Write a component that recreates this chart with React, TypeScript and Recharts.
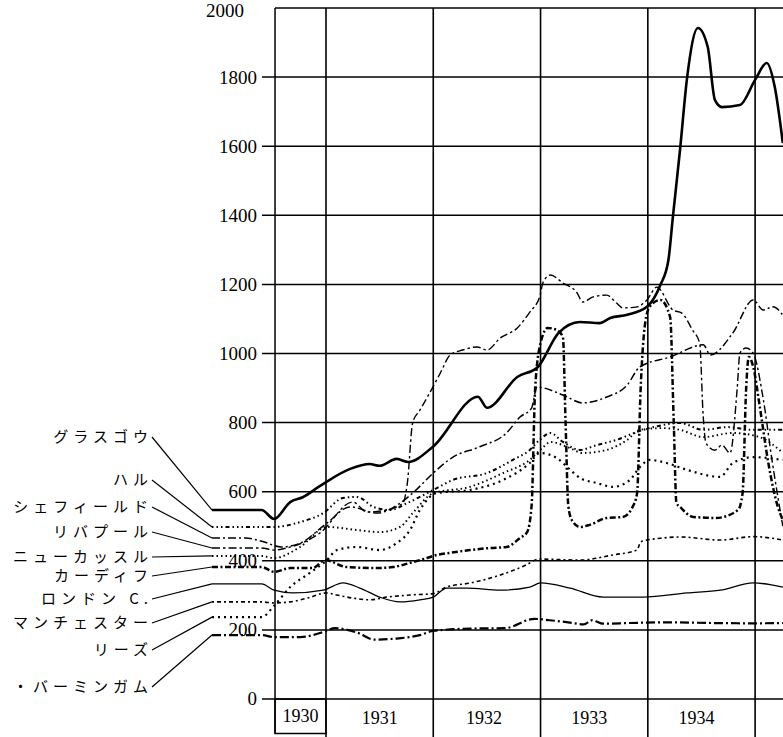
import {
  LineChart,
  Line,
  XAxis,
  YAxis,
  ReferenceLine,
  ReferenceArea,
  ReferenceDot,
} from "recharts";

// x = months counted from January 1930, y = value
const glasgow: [number, number][] = [
  [-0.75, 547], [4.8, 547], [6.2, 521], [8.0, 570], [9.4, 584], [11.3, 616],
  [14.7, 666], [16.9, 680], [18.0, 675], [19.9, 695], [21.2, 686], [24.0, 731],
  [29.0, 875], [30.0, 843], [33.4, 932], [35.7, 961], [38.0, 1059], [40.4, 1091],
  [42.6, 1088], [43.8, 1103], [45.7, 1112], [47.9, 1135], [49.4, 1198], [50.3, 1270],
  [50.8, 1395], [51.6, 1589], [52.4, 1800], [53.6, 1942], [54.7, 1887], [55.5, 1734],
  [56.3, 1713], [58.3, 1719], [60.0, 1792], [61.3, 1841], [62.2, 1771], [63.1, 1609],
];

const hull: [number, number][] = [
  [-0.75, 498], [4.8, 498], [6.2, 498], [9.1, 512], [11.7, 538], [13.9, 582],
  [15.5, 585], [17.3, 556], [19.2, 547], [21.1, 567], [22.5, 585], [24.0, 605],
  [26.2, 634], [30.0, 654], [32.9, 692], [34.8, 721], [35.9, 750], [37.1, 770],
  [38.5, 744], [40.4, 721], [42.3, 735], [44.5, 750], [46.8, 773], [49.7, 793],
  [51.6, 799], [54.2, 779], [56.9, 787], [59.8, 779], [63.1, 779],
];

const sheffield: [number, number][] = [
  [-0.75, 466], [3.0, 466], [5.0, 455], [7.0, 440], [9.1, 451], [12.1, 509],
  [14.7, 556], [17.7, 538], [20.3, 567], [21.7, 596], [24.0, 654], [26.2, 700],
  [29.2, 730], [32.2, 770], [33.7, 816], [35.0, 842], [35.6, 903], [38.5, 880],
  [40.7, 857], [43.4, 874], [45.7, 909], [47.1, 961], [50.5, 990], [54.2, 1025],
  [55.0, 996], [57.5, 1059], [59.8, 1155], [60.9, 1126], [62.0, 1135], [63.1, 1111],
];

const liverpool: [number, number][] = [
  [-0.75, 437], [4.8, 437], [6.2, 431], [7.6, 437], [11.3, 480], [15.0, 570],
  [16.6, 541], [18.8, 547], [20.6, 567], [21.1, 625], [21.7, 800], [22.5, 836],
  [23.6, 886], [24.8, 944], [25.9, 996], [27.3, 1010], [28.9, 1019], [30.0, 1010],
  [31.5, 1045], [33.4, 1074], [34.8, 1120], [35.9, 1164], [36.3, 1207], [37.1, 1227],
  [38.5, 1204], [40.1, 1175], [40.7, 1149], [41.9, 1164], [43.4, 1169], [44.5, 1146],
  [45.2, 1132], [46.8, 1135], [47.9, 1155], [49.0, 1192], [50.8, 1126], [51.8, 1117],
  [53.0, 1068], [53.8, 1030], [54.2, 816], [54.5, 741], [55.5, 720], [56.3, 735],
  [57.2, 712], [58.0, 900], [58.3, 1001], [59.0, 1016], [59.8, 1000], [60.9, 870],
  [61.9, 690], [63.1, 500],
];

const newcastle: [number, number][] = [
  [-0.75, 414], [4.8, 414], [6.2, 408], [9.1, 440], [12.1, 498], [15.5, 489],
  [18.0, 483], [20.3, 498], [21.7, 538], [24.0, 596], [28.1, 614], [31.8, 654],
  [34.8, 692], [36.3, 729], [37.1, 744], [39.3, 726], [40.7, 712], [43.4, 721],
  [45.7, 750], [47.1, 779], [49.7, 784], [51.6, 779], [54.2, 758], [57.5, 770],
  [60.5, 758], [63.1, 712],
];

const cardiff: [number, number][] = [
  [-0.75, 382], [4.8, 382], [6.2, 368], [8.0, 379], [10.5, 379], [11.9, 402],
  [14.3, 382], [17.7, 379], [19.5, 382], [21.4, 394], [23.3, 408], [24.4, 417],
  [25.9, 423], [28.1, 431], [30.3, 437], [32.2, 440], [33.7, 466], [34.5, 483],
  [35.0, 560], [35.4, 900], [36.0, 1030], [36.8, 1074], [37.8, 1068], [38.5, 1048],
  [38.8, 800], [39.1, 560], [39.5, 518], [40.4, 498], [41.5, 504], [43.4, 524],
  [45.2, 527], [46.3, 556], [46.8, 596], [47.2, 900], [47.7, 1088], [48.2, 1135],
  [49.4, 1155], [50.5, 1105], [50.9, 800], [51.2, 567], [51.6, 556], [53.1, 527],
  [55.6, 524], [58.1, 547], [58.6, 596], [59.0, 900], [59.3, 990], [59.8, 960],
  [60.5, 850], [61.5, 680], [62.5, 560], [63.1, 518],
];

const london: [number, number][] = [
  [-0.75, 333], [4.8, 333], [6.2, 315], [8.3, 307], [11.7, 315], [13.9, 336],
  [15.8, 321], [18.0, 295], [20.3, 281], [22.5, 287], [24.0, 295], [25.5, 321],
  [27.8, 321], [31.5, 315], [34.8, 324], [36.0, 336], [39.3, 321], [43.0, 295],
  [47.5, 295], [52.4, 307], [56.1, 315], [59.8, 336], [63.1, 324],
];

const manchester: [number, number][] = [
  [-0.75, 281], [4.8, 281], [6.2, 278], [8.0, 281], [10.3, 295], [12.0, 307],
  [13.2, 301], [15.0, 292], [16.9, 287], [18.8, 295], [21.4, 301], [24.0, 305],
  [25.5, 324], [28.2, 336], [31.5, 359], [34.4, 388], [35.8, 405], [40.4, 402],
  [44.1, 417], [46.8, 431], [47.2, 455], [49.7, 466], [51.6, 469], [56.1, 460],
  [59.8, 470], [63.1, 460],
];

const leeds: [number, number][] = [
  [-0.75, 237], [4.8, 237], [6.2, 270], [8.0, 324], [10.2, 365], [12.1, 402],
  [13.2, 431], [15.5, 440], [18.0, 431], [19.9, 451], [21.4, 489], [22.5, 547],
  [24.4, 596], [28.1, 605], [31.8, 634], [34.8, 683], [35.9, 712], [37.8, 698],
  [39.0, 671], [40.4, 640], [42.3, 625], [44.1, 614], [46.0, 634], [47.1, 671],
  [48.2, 692], [50.1, 683], [52.4, 663], [56.1, 643], [57.5, 683], [59.8, 700],
  [63.1, 692],
];

const birmingham: [number, number][] = [
  [-0.75, 185], [4.8, 185], [6.2, 179], [9.1, 179], [11.7, 194], [13.0, 205],
  [15.5, 192], [17.4, 172], [19.9, 175], [22.5, 185], [24.0, 197], [28.5, 204],
  [32.0, 205], [35.3, 232], [37.0, 228], [39.1, 222], [40.8, 216], [41.8, 228],
  [43.0, 218], [46.0, 220], [50.0, 222], [55.0, 220], [60.0, 219], [63.1, 220],
];

const yTicks = [0, 200, 400, 600, 800, 1000, 1200, 1400, 1600, 1800, 2000];
const yearLabels = ["1930", "1931", "1932", "1933", "1934"];
const yearStarts = [6.3, 12, 24, 36, 48];
const yearEnds = [12, 24, 36, 48, 60];
const yearLines = [12, 24, 36, 48, 60];

const X_MIN = -0.75;
const X_MAX = 63.12;
const Y_MIN = -110;
const Y_MAX = 2000;
const AXIS_X = 6.3; // where the value axis is drawn
const TICK_X = 4.84; // short tick stub left of the axis

const serif = "'Liberation Serif', 'DejaVu Serif', serif";
const jp = "'Noto Sans CJK JP', sans-serif";

// small nudges so the year texts sit where the printed ones do
const yearShift = [0, 0, -3, -5, -5];

type Series = {
  key: string;
  name: string;
  points: [number, number][];
  width: number;
  dash?: string;
  labelY: number;
};

const series: Series[] = [
  { key: "glasgow", name: "グラスゴウ", points: glasgow, width: 2.6, labelY: 435 },
  { key: "hull", name: "ハル", points: hull, width: 2, dash: "1.5 3 1.5 3 1.5 3 4 3", labelY: 478 },
  { key: "sheffield", name: "シェフィールド", points: sheffield, width: 1.5, dash: "8 3 2 3", labelY: 505 },
  { key: "liverpool", name: "リバプール", points: liverpool, width: 1.4, dash: "8 3 2.5 3", labelY: 530 },
  { key: "newcastle", name: "ニューカッスル", points: newcastle, width: 1.9, dash: "1.5 3", labelY: 555 },
  { key: "cardiff", name: "カーディフ", points: cardiff, width: 2.5, dash: "6 2.5 2 2.5", labelY: 574 },
  { key: "london", name: "ロンドン C.", points: london, width: 1.3, labelY: 597 },
  { key: "manchester", name: "マンチェスター", points: manchester, width: 1.6, dash: "2 3 4 3", labelY: 621 },
  { key: "leeds", name: "リーズ", points: leeds, width: 2.2, dash: "2 4", labelY: 648 },
  { key: "birmingham", name: "・バーミンガム", points: birmingham, width: 2.2, dash: "9 3 2 3", labelY: 685 },
];

function toRows(points: [number, number][]) {
  return points.map(([t, v]) => ({ t, v }));
}

function CityLabel(props: any) {
  const { cx, cy, name, labelY } = props;
  return (
    <g>
      <line
        x1={cx - 60}
        y1={labelY + 2}
        x2={cx}
        y2={cy}
        stroke="#000"
        strokeWidth={1.2}
      />
      <text
        x={cx - 59}
        y={labelY}
        textAnchor="end"
        dominantBaseline="central"
        fill="#000"
        style={{ fontFamily: jp, fontSize: 15, letterSpacing: 5 }}
      >
        {name}
      </text>
    </g>
  );
}

function YTickLabel(props: any) {
  const { viewBox, text, gap, dy } = props;
  return (
    <text
      x={viewBox.x - gap}
      y={viewBox.y + (dy || 0)}
      textAnchor="end"
      dominantBaseline="central"
      fill="#000"
      style={{ fontFamily: serif, fontSize: 19 }}
    >
      {text}
    </text>
  );
}

function YearLabel(props: any) {
  const { viewBox, text, shift } = props;
  return (
    <text
      x={viewBox.x + viewBox.width / 2 + shift}
      y={viewBox.y + viewBox.height / 2}
      textAnchor="middle"
      dominantBaseline="central"
      fill="#000"
      style={{ fontFamily: serif, fontSize: 18 }}
    >
      {text}
    </text>
  );
}

export default function App() {
  return (
    <div
      style={{
        position: "absolute",
        left: 0,
        top: 0,
        width: 783,
        height: 737,
        overflow: "hidden",
        background: "#fff",
      }}
    >
      <LineChart
        width={783}
        height={737}
        margin={{ top: 8, right: 0, bottom: 0, left: 212 }}
      >
        <XAxis
          type="number"
          dataKey="t"
          domain={[X_MIN, X_MAX]}
          allowDataOverflow
          hide
        />
        <YAxis
          type="number"
          dataKey="v"
          domain={[Y_MIN, Y_MAX]}
          allowDataOverflow
          hide
        />

        {yTicks.map((v) => (
          <ReferenceLine
            key={`g${v}`}
            segment={[
              { x: v === 2000 ? AXIS_X : TICK_X, y: v },
              { x: X_MAX, y: v },
            ]}
            stroke="#000"
            strokeWidth={1.5}
            label={
              <YTickLabel
                text={String(v)}
                gap={v === 2000 ? 31 : 5}
                dy={v === 2000 ? 2 : 0}
              />
            }
          />
        ))}

        <ReferenceLine
          segment={[
            { x: AXIS_X, y: -100 },
            { x: AXIS_X, y: Y_MAX },
          ]}
          stroke="#000"
          strokeWidth={1.5}
        />
        {yearLines.map((t) => (
          <ReferenceLine
            key={`y${t}`}
            segment={[
              { x: t, y: Y_MIN },
              { x: t, y: Y_MAX },
            ]}
            stroke="#000"
            strokeWidth={1.6}
          />
        ))}

        {yearLabels.map((label, i) => (
          <ReferenceArea
            key={label}
            x1={yearStarts[i]}
            x2={yearEnds[i]}
            y1={i === 0 ? -100 : Y_MIN}
            y2={0}
            fill="none"
            fillOpacity={0}
            stroke={i === 0 ? "#000" : "none"}
            strokeWidth={1.5}
            label={<YearLabel text={label} shift={yearShift[i]} />}
          />
        ))}

        {series.map((s) => (
          <Line
            key={s.key}
            data={toRows(s.points)}
            dataKey="v"
            type="monotone"
            stroke="#000"
            strokeWidth={s.width}
            strokeDasharray={s.dash}
            dot={false}
            activeDot={false}
            isAnimationActive={false}
          />
        ))}

        {series.map((s) => (
          <ReferenceDot
            key={`l${s.key}`}
            x={s.points[0][0]}
            y={s.points[0][1]}
            r={1}
            shape={(p: any) => (
              <CityLabel cx={p.cx} cy={p.cy} name={s.name} labelY={s.labelY} />
            )}
          />
        ))}
      </LineChart>
    </div>
  );
}
